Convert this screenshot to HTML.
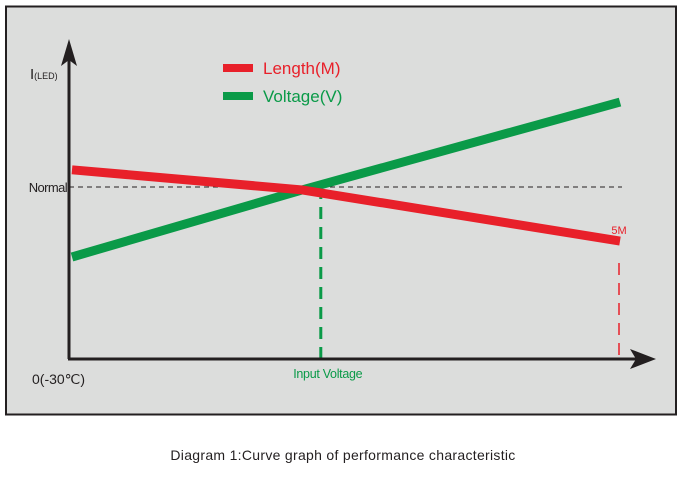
<!DOCTYPE html>
<html><head><meta charset="utf-8">
<style>
html,body{margin:0;padding:0;background:#fff;}
body{width:697px;height:474px;overflow:hidden;font-family:"Liberation Sans",sans-serif;}
</style></head>
<body>
<svg id="chart" width="697" height="474" xmlns="http://www.w3.org/2000/svg">
<rect x="6" y="6.5" width="670" height="408" fill="#dcdddc" stroke="#231f20" stroke-width="2"/>
<g id="marks"></g>
<text x="343" y="460" font-size="14" text-anchor="middle" fill="#231f20" letter-spacing="0.3">Diagram 1:Curve graph of performance characteristic</text>
</svg>
<script>
const seriesNames = ["Length(M)", "Voltage(V)"];
const xPoints = [0, 0.42, 1];
const lengthValues = [1.10, 0.983, 0.686];
const voltageValues = [0.593, 0.983, 1.494];
const normalLevel = 1.0;
const inputVoltageX = 0.454;
const fiveMX = 1.0;

const X0 = 72, X1 = 620, Y0 = 359, YPX = 172;
function xScale(v){ return X0 + v * (X1 - X0); }
function yScale(v){ return Y0 - v * YPX; }

const NS = "http://www.w3.org/2000/svg";
const g = document.getElementById('marks');
function mk(tag, attrs){
  const e = document.createElementNS(NS, tag);
  for (const k in attrs) e.setAttribute(k, attrs[k]);
  g.appendChild(e);
  return e;
}
function pts(vals){ return xPoints.map((x,i)=>xScale(x)+','+yScale(vals[i])).join(' '); }

let e = mk('line', {x1:69, y1:yScale(normalLevel), x2:xScale(fiveMX)+2, y2:yScale(normalLevel), stroke:'#231f20', 'stroke-width':1, 'stroke-dasharray':'5,4'});



e = mk('line', {x1:xScale(inputVoltageX), y1:yScale(normalLevel), x2:xScale(inputVoltageX), y2:Y0, stroke:'#0a9a48', 'stroke-width':3, 'stroke-dasharray':'12,8'});



e = mk('line', {x1:xScale(fiveMX)-1, y1:yScale(lengthValues[2])+22, x2:xScale(fiveMX)-1, y2:Y0, stroke:'#e8202a', 'stroke-width':1.5, 'stroke-dasharray':'12,8'});



e = mk('polyline', {points:pts(voltageValues), fill:'none', stroke:'#0a9a48', 'stroke-width':9});



e = mk('polyline', {points:pts(lengthValues), fill:'none', stroke:'#e8202a', 'stroke-width':9});



e = mk('line', {x1:69, y1:Y0, x2:69, y2:55, stroke:'#231f20', 'stroke-width':3});


e = mk('polygon', {points:'69,39 61,66 69,60 77,66', fill:'#231f20'});


e = mk('line', {x1:68, y1:Y0, x2:640, y2:Y0, stroke:'#231f20', 'stroke-width':3});


e = mk('polygon', {points:'656,359 630,349 636,359 630,369', fill:'#231f20'});



function txt(s, attrs, name){
  const t = mk('text', attrs);
  t.textContent = s;
  
  
  return t;
}
const yl = txt('I', {x:30, y:79, 'font-size':15, fill:'#231f20'}, 'y-axis-title');
const ys = document.createElementNS(NS, 'tspan');
ys.setAttribute('font-size', '9');
ys.textContent = '(LED)';
yl.appendChild(ys);
txt('Normal', {x:67, y:192, 'font-size':13, fill:'#231f20', 'text-anchor':'end', 'letter-spacing':'-0.6'}, 'normal-label');
txt('0(-30\u2103)', {x:32, y:384, 'font-size':14, fill:'#231f20'}, 'origin-label');
txt('Input  Voltage', {x:xScale(inputVoltageX)+7, y:378, 'font-size':12.5, fill:'#0a9a48', 'text-anchor':'middle', 'letter-spacing':'-0.3'}, 'input-voltage-label');
txt('5M', {x:xScale(fiveMX)-1, y:234, 'font-size':11, fill:'#e8202a', 'text-anchor':'middle'}, 'five-meter-label');

const legColors = ['#e8202a', '#0a9a48'];
for (let i = 0; i < seriesNames.length; i++) {
  const ly = 68 + i * 28;
  const r = mk('rect', {x:223, y:ly-4, width:30, height:8, fill:legColors[i]});
  
  
  txt(seriesNames[i], {x:263, y:ly+6, 'font-size':17, fill:legColors[i]}, 'legend-entry');
}
</script>
</body></html>
